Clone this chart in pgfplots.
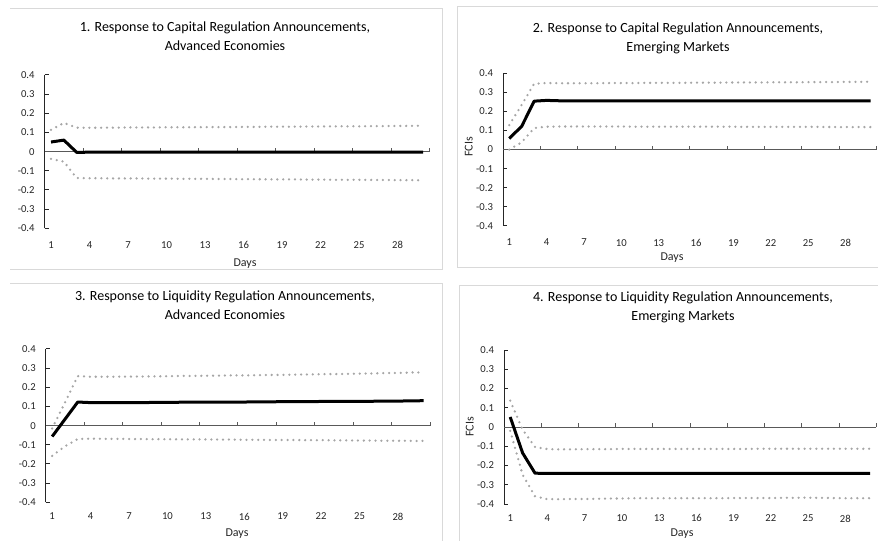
\documentclass[border=0pt]{standalone}
\usepackage{pgfplots}
\pgfplotsset{compat=1.18}
\usepackage{pgfplotstable}
\usepackage{fontspec}
\setmainfont{Carlito}
\definecolor{framegray}{HTML}{D9D9D9}
\definecolor{dotgray}{HTML}{A6A6A6}
\definecolor{xaxgray}{HTML}{595959}
\definecolor{yaxgray}{HTML}{262626}
\definecolor{txtgray}{HTML}{262626}

\pgfplotstableread{
d m u l
1 0.050 0.113 -0.038
2 0.060 0.150 -0.052
3 -0.004 0.125 -0.138
4 -0.003 0.124 -0.139
5 -0.003 0.125 -0.139
6 -0.003 0.125 -0.140
7 -0.003 0.126 -0.140
8 -0.003 0.126 -0.140
9 -0.003 0.126 -0.141
10 -0.003 0.127 -0.141
11 -0.003 0.127 -0.142
12 -0.003 0.127 -0.142
13 -0.003 0.128 -0.142
14 -0.003 0.128 -0.143
15 -0.003 0.128 -0.143
16 -0.003 0.129 -0.144
17 -0.003 0.129 -0.144
18 -0.003 0.130 -0.145
19 -0.003 0.130 -0.145
20 -0.003 0.130 -0.145
21 -0.003 0.131 -0.146
22 -0.003 0.131 -0.146
23 -0.003 0.132 -0.147
24 -0.003 0.132 -0.147
25 -0.003 0.132 -0.147
26 -0.003 0.133 -0.148
27 -0.003 0.133 -0.148
28 -0.003 0.134 -0.149
29 -0.003 0.134 -0.149
30 -0.003 0.135 -0.150
}\tabA

\pgfplotstableread{
d m u l
1 0.058 0.128 0.000
2 0.122 0.235 0.038
3 0.254 0.345 0.113
4 0.258 0.349 0.120
5 0.256 0.348 0.121
6 0.255 0.348 0.121
7 0.255 0.348 0.121
8 0.255 0.348 0.121
9 0.255 0.349 0.121
10 0.255 0.349 0.121
11 0.255 0.349 0.120
12 0.255 0.350 0.120
13 0.255 0.350 0.120
14 0.255 0.350 0.120
15 0.255 0.350 0.120
16 0.255 0.351 0.120
17 0.255 0.351 0.120
18 0.255 0.351 0.120
19 0.255 0.352 0.120
20 0.255 0.352 0.119
21 0.255 0.352 0.119
22 0.255 0.353 0.119
23 0.255 0.353 0.119
24 0.255 0.353 0.119
25 0.255 0.354 0.119
26 0.255 0.354 0.119
27 0.255 0.354 0.118
28 0.255 0.355 0.118
29 0.255 0.355 0.118
30 0.255 0.356 0.118
}\tabB

\pgfplotstableread{
d m u l
1 -0.057 -0.015 -0.158
2 0.033 0.120 -0.108
3 0.123 0.258 -0.070
4 0.120 0.255 -0.068
5 0.120 0.255 -0.069
6 0.120 0.255 -0.069
7 0.120 0.256 -0.070
8 0.120 0.256 -0.070
9 0.121 0.257 -0.071
10 0.121 0.258 -0.071
11 0.122 0.259 -0.072
12 0.122 0.259 -0.072
13 0.122 0.260 -0.072
14 0.123 0.261 -0.073
15 0.123 0.262 -0.073
16 0.123 0.262 -0.074
17 0.124 0.263 -0.074
18 0.124 0.264 -0.075
19 0.125 0.265 -0.075
20 0.125 0.266 -0.075
21 0.125 0.267 -0.076
22 0.126 0.268 -0.076
23 0.126 0.269 -0.077
24 0.126 0.270 -0.077
25 0.127 0.271 -0.078
26 0.127 0.272 -0.078
27 0.128 0.274 -0.079
28 0.128 0.275 -0.079
29 0.129 0.277 -0.080
30 0.130 0.278 -0.080
}\tabC

\pgfplotstableread{
d m u l
1 0.052 0.137 -0.020
2 -0.135 -0.014 -0.248
3 -0.240 -0.104 -0.360
4 -0.241 -0.115 -0.375
5 -0.241 -0.116 -0.375
6 -0.241 -0.116 -0.374
7 -0.241 -0.115 -0.374
8 -0.241 -0.115 -0.373
9 -0.241 -0.115 -0.372
10 -0.241 -0.114 -0.371
11 -0.241 -0.114 -0.370
12 -0.241 -0.114 -0.370
13 -0.241 -0.114 -0.370
14 -0.241 -0.114 -0.370
15 -0.241 -0.114 -0.370
16 -0.241 -0.114 -0.370
17 -0.241 -0.114 -0.370
18 -0.241 -0.114 -0.370
19 -0.241 -0.114 -0.369
20 -0.241 -0.114 -0.369
21 -0.241 -0.113 -0.369
22 -0.241 -0.113 -0.369
23 -0.241 -0.113 -0.368
24 -0.241 -0.113 -0.368
25 -0.241 -0.113 -0.367
26 -0.241 -0.113 -0.368
27 -0.241 -0.113 -0.369
28 -0.241 -0.113 -0.370
29 -0.241 -0.113 -0.370
30 -0.241 -0.113 -0.370
}\tabD

\pgfplotsset{
  panel/.style={
    scale only axis,
    xmin=0.5, xmax=30.5, ymin=-0.4, ymax=0.4,
    axis y line*=left, axis x line*=bottom,
    x axis line style={draw=none},
    y axis line style={draw=yaxgray, line width=0.75pt},
    xtick={1,4,7,10,13,16,19,22,25,28},
    xticklabels={1,4,7,10,13,16,19,22,25,28},
    xtick style={draw=none},
    ytick={-0.4,-0.3,-0.2,-0.1,0,0.1,0.2,0.3,0.4},
    yticklabels={-0.4,-0.3,-0.2,-0.1,0,0.1,0.2,0.3,0.4},
    ytick style={draw=yaxgray, line width=0.75pt},
    tick align=inside, major tick length=3pt,
    tick label style={font=\fontsize{8}{9}\selectfont, text=txtgray},
    yticklabel style={xshift=-4pt},
    clip=false,
  },
  mid/.style={black, line width=2.25pt, line join=round, no marks},
  band/.style={dotgray, line width=1.9pt, line cap=round, dash pattern=on 0pt off 4.4pt, no marks},
}
\newcommand{\xaxisline}{%
  \draw[xaxgray, line width=0.75pt] (axis cs:0.5,0) -- (axis cs:30.5,0);
  \pgfplotsinvokeforeach{3.5,6.5,9.5,12.5,15.5,18.5,21.5,24.5,27.5,30.5}{%
    \draw[xaxgray, line width=0.75pt] (axis cs:##1,0) -- ++(0pt,3pt);}%
}

\begin{document}
\begin{tikzpicture}
\useasboundingbox (0,0) rectangle (658.5pt,405pt);
% frames
\draw[framegray, line width=0.75pt] (7.5pt,398.25pt) -- (331.5pt,398.25pt) -- (331.5pt,203.25pt) -- (7.5pt,203.25pt);
\draw[framegray, line width=0.75pt] (660pt,399.75pt) -- (342.75pt,399.75pt) -- (342.75pt,204.75pt) -- (660pt,204.75pt);
\draw[framegray, line width=0.75pt] (7.5pt,192.75pt) -- (331.5pt,192.75pt) -- (331.5pt,-2pt);
\draw[framegray, line width=0.75pt] (660pt,191.25pt) -- (344.25pt,191.25pt) -- (344.25pt,-2pt);

% Panel 1
\begin{axis}[panel, at={(33.45pt,233.8pt)}, anchor=south west, width=288.75pt, height=115pt, xticklabel style={yshift=-6.5pt}]
\xaxisline
\addplot[band] table[x=d,y=u]{\tabA};
\addplot[band] table[x=d,y=l]{\tabA};
\addplot[mid] table[x=d,y=m]{\tabA};
\end{axis}
% Panel 2
\begin{axis}[panel, at={(377.25pt,235.7pt)}, anchor=south west, width=280.3pt, height=114.3pt, xticklabel style={yshift=-6.5pt}]
\xaxisline
\addplot[band] table[x=d,y=u]{\tabB};
\addplot[band] table[x=d,y=l]{\tabB};
\addplot[mid] table[x=d,y=m]{\tabB};
\end{axis}
% Panel 3
\begin{axis}[panel, at={(34.3pt,28.3pt)}, anchor=south west, width=288.2pt, height=115pt, xticklabel style={yshift=-4.5pt}]
\xaxisline
\addplot[band] table[x=d,y=u]{\tabC};
\addplot[band] table[x=d,y=l]{\tabC};
\addplot[mid] table[x=d,y=m]{\tabC};
\end{axis}
% Panel 4
\begin{axis}[panel, at={(378pt,27pt)}, anchor=south west, width=279.3pt, height=115.5pt, xticklabel style={yshift=-4.5pt}]
\xaxisline
\addplot[band] table[x=d,y=u]{\tabD};
\addplot[band] table[x=d,y=l]{\tabD};
\addplot[mid] table[x=d,y=m]{\tabD};
\end{axis}

% titles
\begin{scope}[every node/.style={align=center, font=\fontsize{10.5}{14.25}\selectfont, text=black}]
\node at (168.75pt,377.6pt) {1. Response to Capital Regulation Announcements,\\Advanced Economies};
\node at (508.5pt,376.5pt) {2. Response to Capital Regulation Announcements,\\Emerging Markets};
\node at (168.75pt,176.25pt) {3. Response to Liquidity Regulation Announcements,\\Advanced Economies};
\node at (512.25pt,174.4pt) {4. Response to Liquidity Regulation Announcements,\\Emerging Markets};
\end{scope}
\begin{scope}[every node/.style={font=\fontsize{9}{10}\selectfont, text=txtgray}]
\node at (183.75pt,207pt) {Days};
\node at (504pt,211.5pt) {Days};
\node at (177.75pt,5pt) {Days};
\node at (511.5pt,5pt) {Days};
\node[rotate=90] at (351.5pt,294.75pt) {FCIs};
\node[rotate=90] at (352.3pt,84.75pt) {FCIs};
\end{scope}
\end{tikzpicture}
\end{document}
